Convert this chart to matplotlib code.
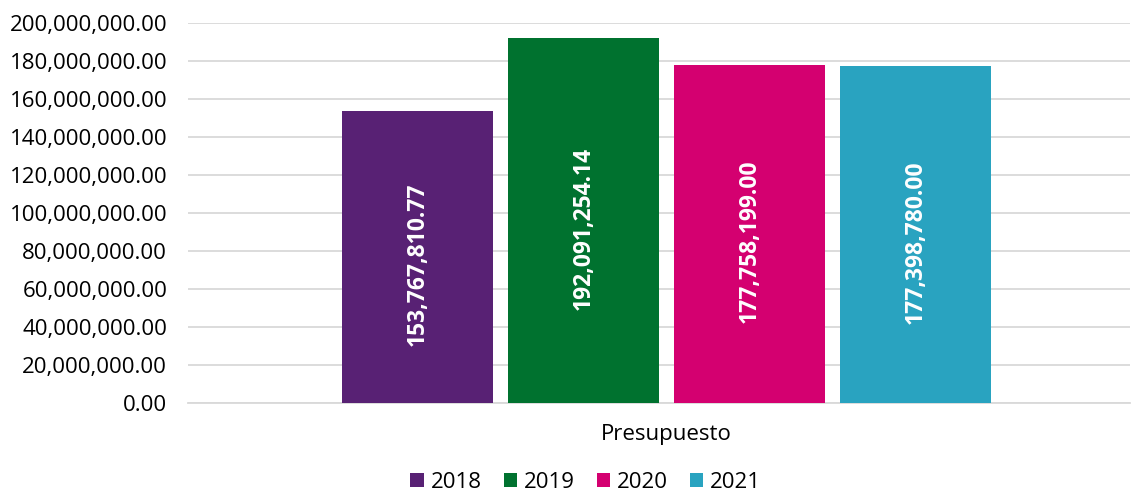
import matplotlib
matplotlib.use("Agg")
import matplotlib.pyplot as plt
from matplotlib.ticker import FuncFormatter

years = ["2018", "2019", "2020", "2021"]
values = [153767810.77, 192091254.14, 177758199.00, 177398780.00]
colors = ["#582174", "#00722F", "#D40070", "#29A3C0"]
category = "Presupuesto"

plt.rcParams['font.family'] = ['Open Sans', 'DejaVu Sans']

fig = plt.figure(figsize=(11.33, 4.97), dpi=100)
ax = fig.add_axes([188/1133, 1-403/497, (1130-188)/1133, 380/497])

center = 0.508
step = 0.176
width = 0.160
for i, (y, v, c) in enumerate(zip(years, values, colors)):
    x = center + (i - 1.5) * step
    ax.bar(x, v, width=width, color=c, label=y, zorder=3)
    ax.text(x, v / 2 - 4e6, f"{v:,.2f}", rotation=90, ha="center", va="center",
            color="white", fontsize=16.5, fontweight="bold", zorder=4)

ax.set_xlim(0, 1)
ax.set_ylim(0, 200000000)
ax.set_yticks(range(0, 200000001, 20000000))
ax.yaxis.set_major_formatter(FuncFormatter(lambda v, p: f"{v:,.2f}"))
ax.set_xticks([center])
ax.set_xticklabels([category])
ax.tick_params(axis="both", length=0, labelsize=16, colors="#000000")
ax.tick_params(axis="y", pad=15)
ax.tick_params(axis="x", pad=15)
ax.grid(axis="y", color="#D9D9D9", linewidth=1.3, zorder=0)
for s in ["top", "right", "left"]:
    ax.spines[s].set_visible(False)
ax.spines["bottom"].set_color("#D9D9D9")
ax.spines["bottom"].set_linewidth(1.3)

fig.legend(loc="lower center", bbox_to_anchor=(0.517, -0.032), ncol=4, frameon=False,
           fontsize=16, handlelength=0.6, handleheight=0.6, handletextpad=0.3,
           columnspacing=1.0)

fig.savefig("out.png", dpi=100)
